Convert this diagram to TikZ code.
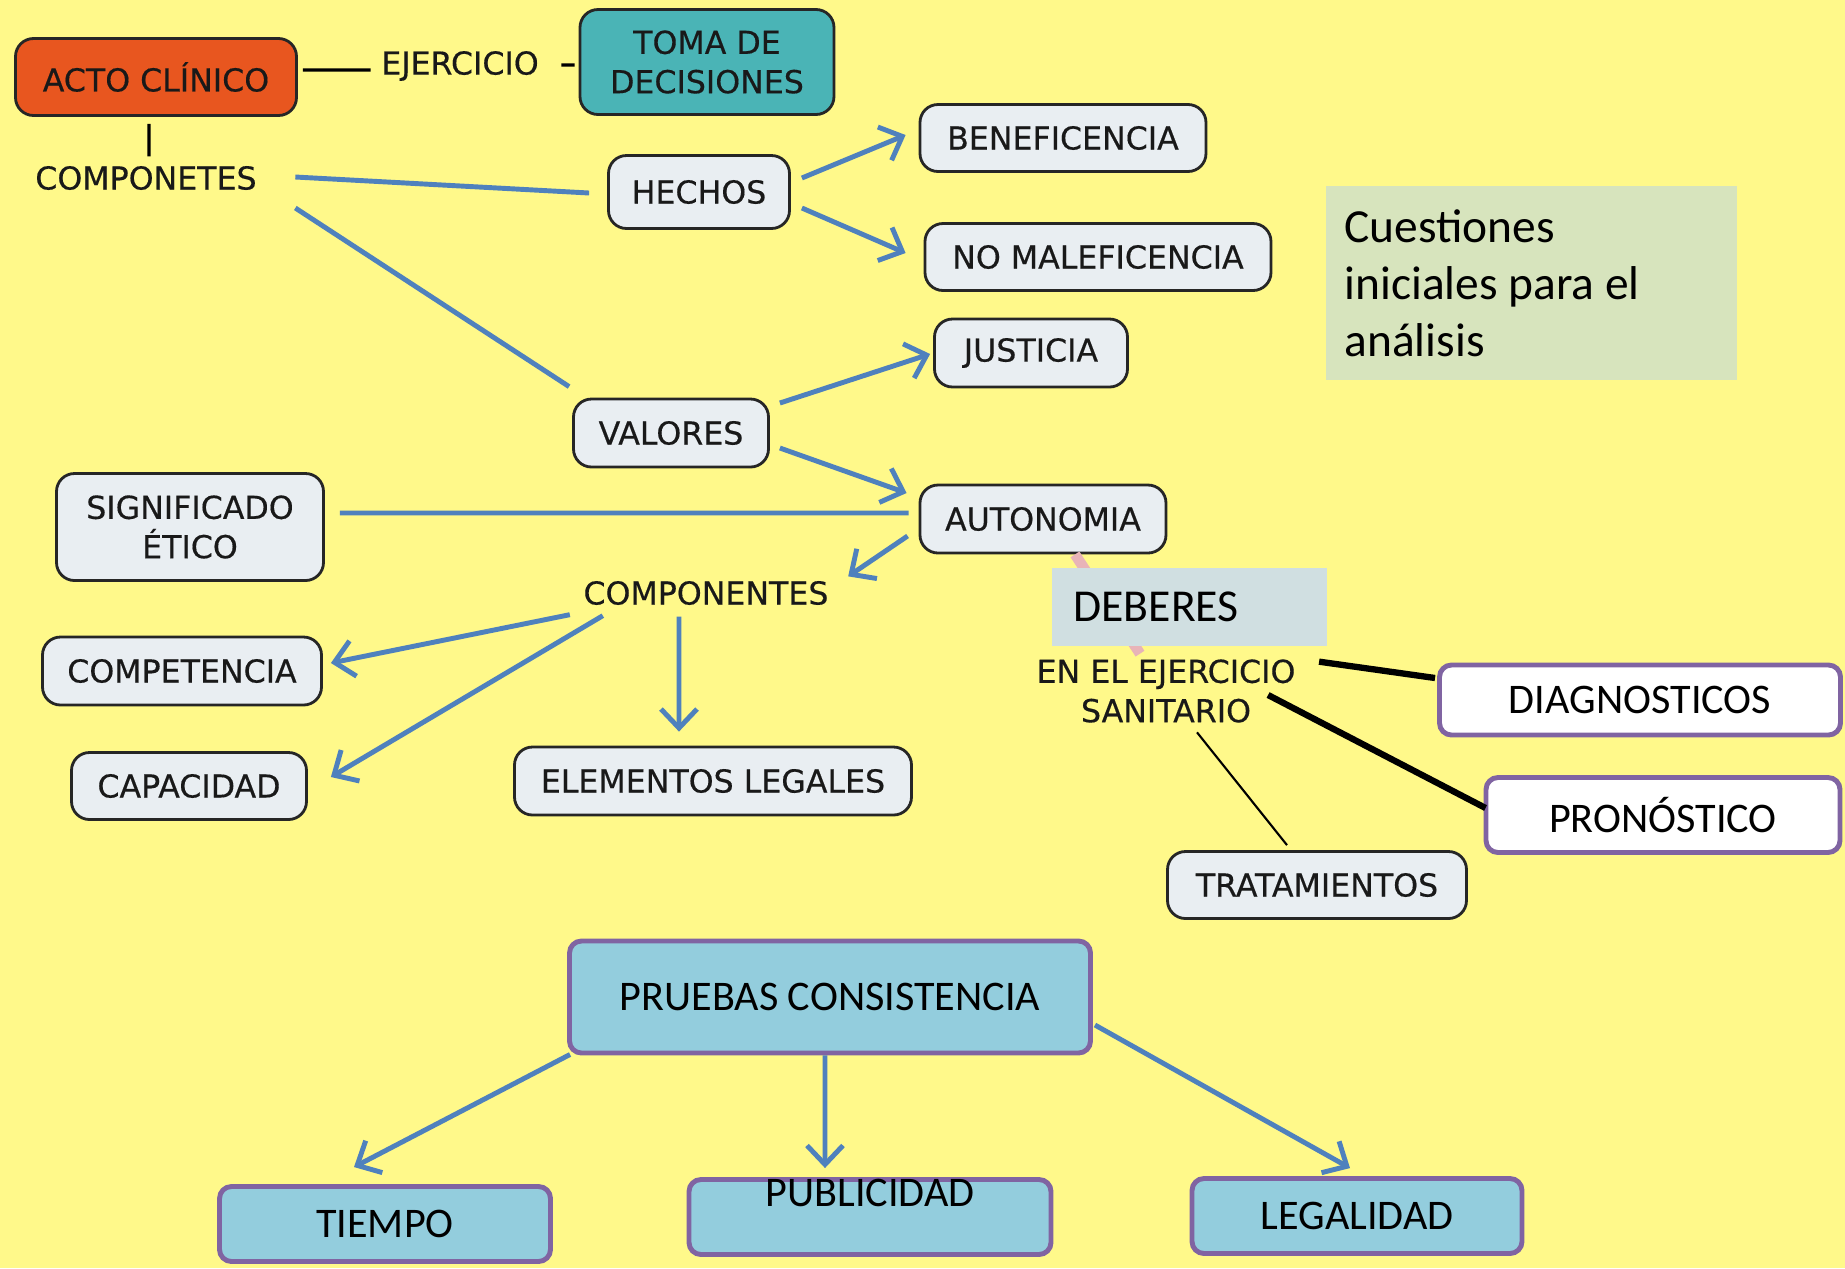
\documentclass[tikz,border=0pt]{standalone}
\usepackage{fontspec}
\usepackage{tikz}
\usetikzlibrary{arrows.meta,positioning}
\setmainfont{DejaVu Sans}
\newfontfamily\mapface[FakeBold=0.4]{DejaVu Sans}
\newfontfamily\calib{Carlito}
\definecolor{paper}{HTML}{FFF98A}
\definecolor{actoorange}{HTML}{E8561F}
\definecolor{tomateal}{HTML}{4AB4B6}
\definecolor{softgrey}{HTML}{E9EEF2}
\definecolor{mapblue}{HTML}{4F81BD}
\definecolor{mapviolet}{HTML}{8064A2}
\definecolor{softaqua}{HTML}{93CDDD}
\definecolor{softolive}{HTML}{D7E4BD}
\definecolor{softslate}{HTML}{D0DFE1}
\definecolor{softpink}{HTML}{E8B4B8}
\newcommand{\mapfont}{\mapface\fontsize{9}{11.2}\selectfont}
\newcommand{\boxfont}{\calib\fontsize{12}{14.4}\selectfont}
\newcommand{\bigfont}{\calib\fontsize{13.5}{16.2}\selectfont}

\begin{document}
\begin{tikzpicture}[x=0.1mm,y=-0.1mm,>={Straight Barb[length=1.9mm,width=3.6mm]}]
  \path[use as bounding box] (0,0) rectangle (1845,1268);
  \fill[paper] (0,0) rectangle (1845,1268);
  \tikzset{
    concept/.style={draw=black!85,fill=softgrey,line width=0.8pt,rounded corners=1.8mm,align=center,font=\mapfont,text=black!90,minimum height=6.8mm,inner sep=0pt},
    cue/.style={font=\mapfont,text=black!90,inner sep=0pt,align=center},
    slide/.style={draw=mapviolet,fill=softaqua,line width=1.4pt,rounded corners=1.2mm,align=center,font=\boxfont,minimum height=7.5mm,inner sep=0pt},
    duty/.style={slide,fill=white},
    blueline/.style={draw=mapblue,line width=1.4pt},
    flow/.style={blueline,->},
    blackline/.style={draw=black,line width=0.9pt}
  }
  \node[concept,fill=actoorange,minimum width=28.1mm,minimum height=7.7mm] (acto) at (156,77) {ACTO CLÍNICO};
  \node[concept,fill=tomateal,minimum width=25.4mm,minimum height=10.5mm] (toma) at (707,62) {TOMA DE\\DECISIONES};
  \node[cue] (ejercicio) at (460,66) {EJERCICIO};
  \node[cue] (componetes) at (146,178) {COMPONETES};
  \node[concept,minimum width=18.1mm,minimum height=7.3mm] (hechos) at (699,192) {HECHOS};
  \node[concept,minimum width=28.6mm,minimum height=6.7mm] (benef) at (1063,138) {BENEFICENCIA};
  \node[concept,minimum width=34.6mm,minimum height=6.7mm] (nomal) at (1098,257) {NO MALEFICENCIA};
  \node[concept,minimum width=19.3mm] (justicia) at (1031,353) {JUSTICIA};
  \node[concept,minimum width=19.5mm] (valores) at (671,433) {VALORES};
  \node[concept,minimum width=24.6mm] (autonomia) at (1043,519) {AUTONOMIA};
  \node[concept,minimum width=26.7mm,minimum height=10.7mm] (signif) at (190,527) {SIGNIFICADO\\ÉTICO};
  \node[cue] (componentes) at (706,593) {COMPONENTES};
  \node[concept,minimum width=27.9mm] (competencia) at (182,671) {COMPETENCIA};
  \node[concept,minimum width=23.5mm,minimum height=6.7mm] (capacidad) at (189,786) {CAPACIDAD};
  \node[concept,minimum width=39.7mm] (elementos) at (713,781) {ELEMENTOS LEGALES};
  \node[fill=softolive,minimum height=19.4mm,text width=37.3mm,inner xsep=1.9mm,align=flush left,font=\bigfont] (cuestiones) at (1531,283) {Cuestiones\\iniciales para el\\análisis};
  \node[cue] (ejsan) at (1166,691) {EN EL EJERCICIO\\SANITARIO};
  \draw[softpink,line width=3pt] ([xshift=3.2mm]autonomia.south) -- ([xshift=-2.6mm,yshift=0.5mm]ejsan.north);
  \node[fill=softslate,text width=23.1mm,inner xsep=2.2mm,minimum height=7.8mm,align=flush left,font=\calib\fontsize{13}{15.6}\selectfont] (deberes) at (1189,607) {DEBERES};
  \node[duty,minimum width=40.1mm,minimum height=7mm] (diag) at (1640,700) {DIAGNOSTICOS};
  \node[duty,minimum width=35.4mm] (prono) at (1663,815) {PRONÓSTICO};
  \node[concept,minimum width=29.9mm,minimum height=6.7mm] (trat) at (1317,885) {TRATAMIENTOS};
  \node[slide,minimum width=52.1mm,minimum height=11.2mm] (pruebas) at (830,997) {PRUEBAS CONSISTENCIA};
  \node[slide,minimum width=33.1mm] (tiempo) at (385,1224) {TIEMPO};
  \node[slide,minimum width=36.2mm,text height=2.7mm,text depth=4.8mm] (public) at (870,1217) {PUBLICIDAD};
  \node[slide,minimum width=33mm] (legal) at (1357,1216) {LEGALIDAD};

  \draw[blackline] ([xshift=0.5mm,yshift=0.7mm]acto.east) -- ([xshift=-1mm,yshift=-0.4mm]ejercicio.west);
  \draw[blackline] ([xshift=2.2mm,yshift=0.1mm]ejercicio.east) -- ([xshift=-0.4mm,yshift=-0.3mm]toma.west);
  \draw[blackline] ([xshift=-0.7mm,yshift=-0.7mm]acto.south) -- ([xshift=0.3mm,yshift=0.9mm]componetes.north);
  \draw[blueline] ([xshift=3.8mm,yshift=0.1mm]componetes.east) -- ([xshift=-1.8mm,yshift=-0.1mm]hechos.west);
  \draw[blueline] ([xshift=3.8mm,yshift=-3mm]componetes.east) -- ([xshift=-0.3mm,yshift=1.1mm]valores.north west);
  \draw[flow] ([xshift=1.1mm,yshift=1.4mm]hechos.east) -- ([xshift=-1.3mm,yshift=0.3mm]benef.west);
  \draw[flow] ([xshift=1.1mm,yshift=-1.6mm]hechos.east) -- ([xshift=-1.8mm,yshift=0.4mm]nomal.west);
  \draw[flow] ([xshift=1mm,yshift=3mm]valores.east) -- ([xshift=-0.3mm,yshift=-0.1mm]justicia.west);
  \draw[flow] ([xshift=1mm,yshift=-1.5mm]valores.east) -- ([xshift=-1.2mm,yshift=2.6mm]autonomia.west);
  \draw[blueline] ([xshift=1.5mm,yshift=1.4mm]signif.east) -- ([xshift=-1mm,yshift=0.6mm]autonomia.west);
  \draw[flow] ([xshift=-1.1mm,yshift=-1.7mm]autonomia.west) -- ([xshift=1.9mm,yshift=0.4mm]componentes.north east);
  \draw[flow] ([xshift=-1.3mm,yshift=-0.9mm]componentes.south west) -- ([xshift=0.8mm,yshift=0.8mm]competencia.east);
  \draw[flow] ([xshift=2mm,yshift=-1mm]componentes.south west) -- ([xshift=2.3mm,yshift=0.9mm]capacidad.east);
  \draw[flow] ([xshift=-2.7mm,yshift=-1.1mm]componentes.south) -- ([xshift=-3.4mm,yshift=1.4mm]elementos.north);
  \draw[blackline,line width=1.8pt] ([xshift=2.3mm,yshift=-0.3mm]ejsan.north east) -- ([xshift=-0.2mm,yshift=2.2mm]diag.west);
  \draw[blackline,line width=1.8pt] ([xshift=-2.8mm,yshift=-0.4mm]ejsan.east) -- ([xshift=0.2mm,yshift=0.7mm]prono.west);
  \draw[blackline,line width=0.6pt] ([xshift=3.1mm,yshift=-0.9mm]ejsan.south) -- ([xshift=-3mm,yshift=0.5mm]trat.north);
  \draw[flow] ([xshift=0.3mm,yshift=0.1mm]pruebas.south west) -- ([xshift=-3.1mm,yshift=1.7mm]tiempo.north);
  \draw[flow] ([xshift=-0.5mm]pruebas.south) -- ([xshift=-4.5mm,yshift=0.9mm]public.north);
  \draw[flow] ([xshift=0.2mm,yshift=-2.8mm]pruebas.east) -- ([xshift=-0.7mm,yshift=0.8mm]legal.north);
\end{tikzpicture}
\end{document}
